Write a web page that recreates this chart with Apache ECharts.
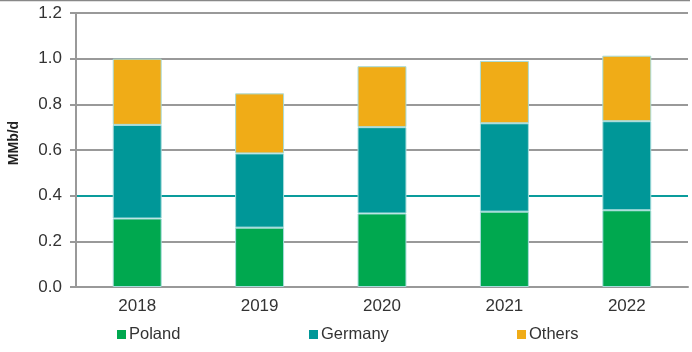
<!DOCTYPE html>
<html lang="en">

<head>
    <meta charset="UTF-8">
    <title>MMb/d by country</title>
    <script src="https://cdn.jsdelivr.net/npm/echarts@6/dist/echarts.min.js"></script>
    <style>
        html, body { margin: 0; padding: 0; background: #fff; }
        #chart { width: 692px; height: 352px; }
    </style>
</head>

<body>
    <div id="chart"></div>

    <script>
    const years = ['2018', '2019', '2020', '2021', '2022'];
    const poland = [0.30, 0.26, 0.322, 0.33, 0.336];
    const germany = [0.41, 0.325, 0.378, 0.387, 0.39];
    const others = [0.29, 0.263, 0.267, 0.273, 0.287];
    const yTicks = ['0.0', '0.2', '0.4', '0.6', '0.8', '1.0', '1.2'];

    const font = 'Liberation Sans, Arial, sans-serif';
    const border = { borderColor: '#a6dcdc', borderWidth: 1 };

    function bar(name, data, color) {
        return {
            name: name,
            type: 'bar',
            stack: 'total',
            data: data,
            barWidth: '40%',
            itemStyle: Object.assign({ color: color }, border)
        };
    }

    function legend(name, left) {
        return {
            data: [name],
            left: left,
            top: 321,
            icon: 'rect',
            itemWidth: 9,
            itemHeight: 9,
            itemGap: 0,
            itemStyle: { borderWidth: 0 },
            textStyle: { fontFamily: font, fontSize: 16.5, color: '#333', padding: [0, 0, 0, -2] }
        };
    }

    var chart = echarts.init(document.getElementById('chart'));
    var option = {
        animation: false,
        grid: { left: 76, right: 4, top: 13, bottom: 65 },
        legend: [legend('Poland', 112), legend('Germany', 304), legend('Others', 512)],
        graphic: [{
            type: 'line',
            shape: { x1: 0, y1: 0.5, x2: 690, y2: 0.5 },
            style: { stroke: '#888', lineWidth: 1.5 }
        }, {
            type: 'text',
            x: 14,
            y: 143,
            rotation: Math.PI / 2,
            style: {
                text: 'MMb/d',
                font: 'bold 14px ' + font,
                fill: '#222',
                align: 'center',
                verticalAlign: 'middle'
            }
        }],
        xAxis: {
            type: 'category',
            data: years,
            axisLine: { lineStyle: { color: '#999', width: 2 } },
            axisTick: { length: 5, lineStyle: { color: '#999', width: 2 } },
            axisLabel: { fontFamily: font, fontSize: 17, color: '#333', margin: 11 }
        },
        yAxis: {
            type: 'value',
            min: 0,
            max: 1.2,
            interval: 0.2,
            axisLine: { show: true, lineStyle: { color: '#999', width: 2 } },
            axisTick: { show: true, length: 6, lineStyle: { color: '#999', width: 2 } },
            axisLabel: {
                fontFamily: font, fontSize: 17, color: '#333', margin: 14,
                formatter: (v) => yTicks[Math.round(v / 0.2)]
            },
            splitLine: {
                lineStyle: {
                    color: ['#999', '#999', '#0a9c9c', '#999', '#999', '#999', '#999'],
                    width: 2
                }
            }
        },
        series: [
            bar('Poland', poland, '#00a84f'),
            bar('Germany', germany, '#009798'),
            bar('Others', others, '#f0ac17')
        ]
    };
    chart.setOption(option);
    </script>
</body>

</html>
